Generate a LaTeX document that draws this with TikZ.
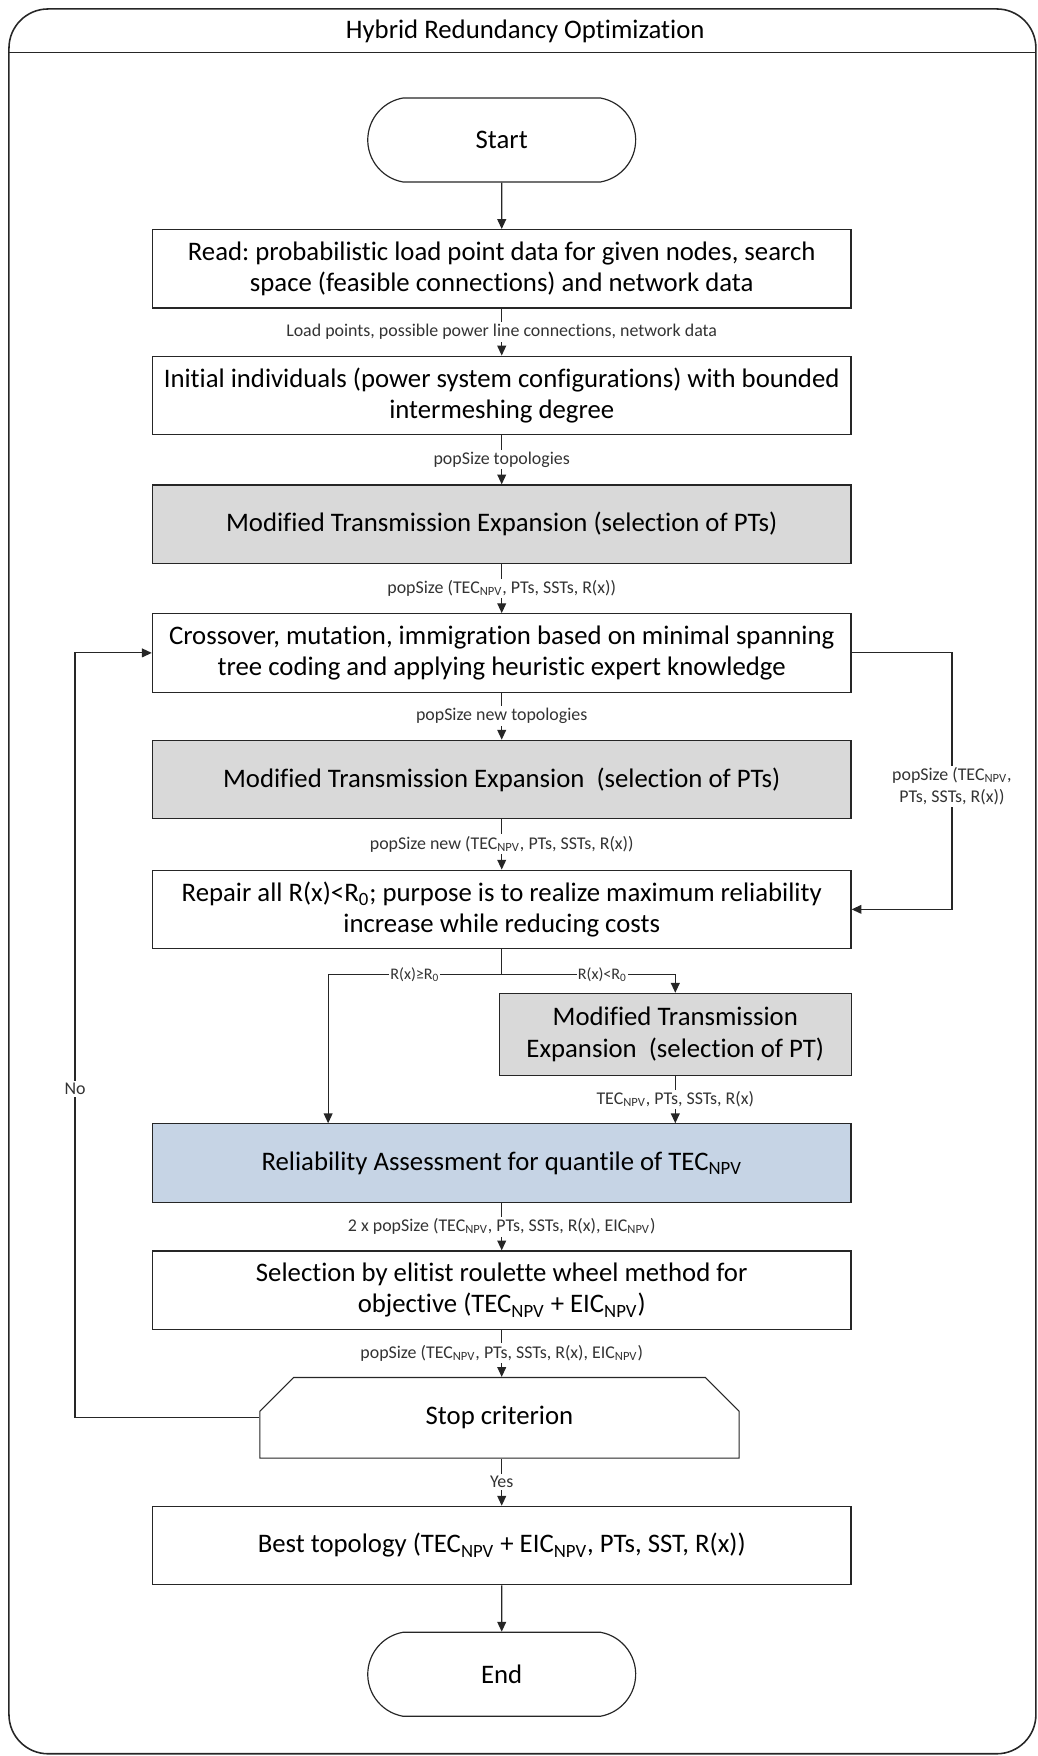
\documentclass[tikz,border=0pt]{standalone}
\usepackage{fontspec}
\setmainfont{Carlito}[Ligatures={NoCommon, NoContextual}]
\frenchspacing
\usetikzlibrary{shapes.misc, arrows.meta, positioning, calc}
\definecolor{mteGray}{RGB}{217,217,217}
\definecolor{relBlue}{RGB}{198,212,229}
\tikzset{
    flowBlock/.style={
        draw=black!85, fill=white, line width=0.6pt, minimum width=12.48cm, minimum height=1.4cm, align=center, font=\fontsize{13.6}{16}\selectfont, inner sep=3pt
    },
    mteBlock/.style={
        flowBlock, fill=mteGray
    },
    relBlock/.style={
        flowBlock, fill=relBlue
    },
    termBlock/.style={
        rounded rectangle, rounded rectangle arc length=160, draw=black!85, fill=white, line width=0.6pt, minimum width=5.02cm, minimum height=1.5cm, font=\fontsize{13.6}{16}\selectfont
    },
    stopBlock/.style={
        chamfered rectangle, chamfered rectangle corners={north west, north east}, chamfered rectangle xsep=0.4cm, chamfered rectangle ysep=0.4cm,
        draw=black!85, fill=white, line width=0.6pt, minimum width=8.56cm, minimum height=1.44cm, font=\fontsize{13.6}{16}\selectfont, inner sep=0pt
    },
    flowArrow/.style={
        -{Triangle[length=5pt, width=4.5pt]}, line width=0.6pt, draw=black!85
    },
    flowLine/.style={
        line width=0.6pt, draw=black!85
    },
    edgeLabel/.style={
        fill=white, font=\fontsize{9.1}{11}\selectfont, inner sep=1pt, text=black!80
    },
    branchLabel/.style={
        edgeLabel, font=\fontsize{8.2}{10}\selectfont, inner sep=0.5pt
    }
}

\begin{document}
\begin{tikzpicture}[x=0.02cm, y=-0.02cm]
    \useasboundingbox (0,0) rectangle (926,1568);

    % ── FRAME AND TITLE
    \draw[line width=0.8pt, draw=black!85, rounded corners=0.7cm] (8,8) rectangle (925,1566);
    \draw[line width=0.8pt, draw=black!85] (8,47) -- (925,47);
    \node[font=\fontsize{13.6}{16}\selectfont] (titleMain) at (469,28) {Hybrid Redundancy Optimization};

    % ── MAIN COLUMN
    \node[termBlock] (start) at (448,125) {Start};
    \node[flowBlock] (readData) at (448,240) {
        Read: probabilistic load point data for given nodes, search\\
        space (feasible connections) and network data
    };
    \node[flowBlock] (initPop) at (448,353) {
        Initial individuals (power system configurations) with bounded\\
        intermeshing degree
    };
    \node[mteBlock] (mteFirst) at (448,468) {Modified Transmission Expansion (selection of PTs)};
    \node[flowBlock] (crossover) at (448,583) {
        Crossover, mutation, immigration based on minimal spanning\\
        tree coding and applying heuristic expert knowledge
    };
    \node[mteBlock] (mteSecond) at (448,696) {Modified Transmission Expansion~~(selection of PTs)};
    \node[flowBlock] (repair) at (448,812) {
        Repair all R(x)<R\textsubscript{0}; purpose is to realize maximum reliability\\
        increase while reducing costs
    };
    \node[mteBlock, minimum width=6.28cm, minimum height=1.46cm] (mtePT) at (603,923.5) {
        Modified Transmission\\
        Expansion~~(selection of PT)
    };
    \node[relBlock] (reliab) at (448,1038.5) {Reliability Assessment for quantile of TEC\textsubscript{NPV}};
    \node[flowBlock] (selection) at (448,1152) {
        Selection by elitist roulette wheel method for\\
        objective (TEC\textsubscript{NPV} + EIC\textsubscript{NPV})
    };
    \node[stopBlock] (stopCrit) at (446,1266) {Stop criterion};
    \node[flowBlock] (bestTopo) at (448,1380) {Best topology (TEC\textsubscript{NPV} + EIC\textsubscript{NPV}, PTs, SST, R(x))};
    \node[termBlock] (finish) at (448,1495) {End};

    \coordinate (split) at (448,870);
    \coordinate (sideTurn) at (850,583);
    \coordinate (noTurn) at (67,1266);

    % ── CONNECTIONS
    \draw[flowArrow] (start) -- (readData);
    \draw[flowArrow] (readData) -- node[edgeLabel] {Load points, possible power line connections, network data} (initPop);
    \draw[flowArrow] (initPop) -- node[edgeLabel] {popSize topologies} (mteFirst);
    \draw[flowArrow] (mteFirst) -- node[edgeLabel] {popSize (TEC\textsubscript{NPV}, PTs, SSTs, R(x))} (crossover);
    \draw[flowArrow] (crossover) -- node[edgeLabel] {popSize new topologies} (mteSecond);
    \draw[flowArrow] (mteSecond) -- node[edgeLabel] {popSize new (TEC\textsubscript{NPV}, PTs, SSTs, R(x))} (repair);
    \draw[flowArrow] (crossover.east) -- (sideTurn) |- node[edgeLabel, pos=0.26, align=center] {popSize (TEC\textsubscript{NPV},\\PTs, SSTs, R(x))} (repair.east);

    % Branches after repair
    \draw[flowLine] (repair.south) -- (split);
    \draw[flowArrow] (split) -| node[branchLabel, pos=0.25] {R(x)≥R\textsubscript{0}} ($(reliab.north)+(-155,0)$);
    \draw[flowArrow] (split) -| node[branchLabel, pos=0.29] {R(x)<R\textsubscript{0}} (mtePT.north);
    \draw[flowArrow] (mtePT.south) -- node[edgeLabel] {TEC\textsubscript{NPV}, PTs, SSTs, R(x)} (mtePT.south |- reliab.north);

    \draw[flowArrow] (reliab) -- node[edgeLabel] {2 x popSize (TEC\textsubscript{NPV}, PTs, SSTs, R(x), EIC\textsubscript{NPV})} (selection);
    \draw[flowArrow] (selection) -- node[edgeLabel] {popSize (TEC\textsubscript{NPV}, PTs, SSTs, R(x), EIC\textsubscript{NPV})} (selection |- stopCrit.north);
    \draw[flowArrow] (stopCrit.south -| bestTopo) -- node[edgeLabel] {Yes} (bestTopo);
    \draw[flowArrow] (stopCrit.west) -- (noTurn) |- node[edgeLabel, pos=0.215] {No} (crossover.west);
    \draw[flowArrow] (bestTopo) -- (finish);
\end{tikzpicture}
\end{document}
